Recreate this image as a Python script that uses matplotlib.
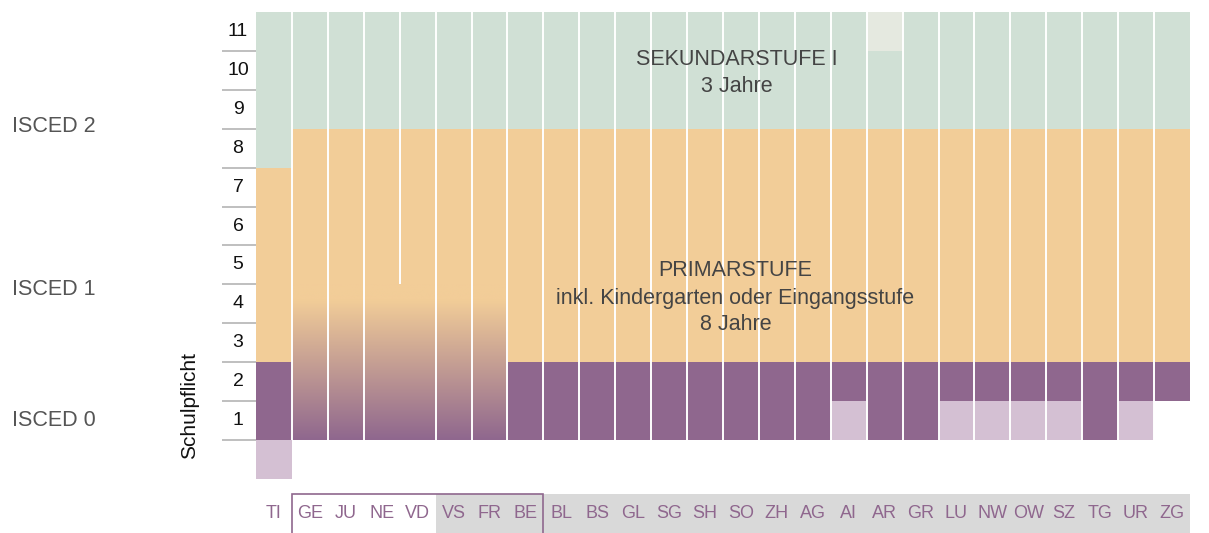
import numpy as np
import matplotlib.pyplot as plt
from matplotlib.colors import LinearSegmentedColormap
from matplotlib.patches import Rectangle

plt.rcParams['font.family'] = ['Liberation Sans', 'DejaVu Sans']

# Kantone in der Reihenfolge der Grafik
kantone = ["TI", "GE", "JU", "NE", "VD", "VS", "FR", "BE", "BL", "BS", "GL", "SG", "SH",
           "SO", "ZH", "AG", "AI", "AR", "GR", "LU", "NW", "OW", "SZ", "TG", "UR", "ZG"]
schuljahre = list(range(1, 12))

# Obergrenzen / Untergrenzen der Stufen (in Schuljahren)
sek_ende = [11] * 17 + [10] + [11] * 8          # AR: 11. Jahr nur hell
primar_ende = [7] + [8] * 25
primar_start = [2] + [4] * 6 + [2] * 19
eingangsstufe = [0] + [4] * 6 + [0] * 19          # GE..FR: Verlauf Kiga -> Primar
kiga_pflicht = [2, 0, 0, 0, 0, 0, 0, 2, 2, 2, 2, 2, 2, 2, 2, 2, 1, 2, 2, 1, 1, 1, 1, 2, 1, 1]
kiga_freiwillig = [1, 0, 0, 0, 0, 0, 0, 0, 0, 0, 0, 0, 0, 0, 0, 0, 1, 0, 0, 1, 1, 1, 1, 0, 1, 0]

isced = ["ISCED 2", "ISCED 1", "ISCED 0"]
isced_y = [8.05, 3.88, 0.51]

gruen = "#d0e0d5"
orange = "#f2cd98"
lila = "#8f678e"
hell_lila = "#d4c0d3"
blass = "#e5e9e0"

fig = plt.figure(figsize=(12.09, 5.33), dpi=100)
ax = fig.add_axes([0, 0, 1, 1])
ax.axis("off")

x = np.arange(len(kantone))
sek_ende = np.array(sek_ende)
primar_ende = np.array(primar_ende)
primar_start = np.array(primar_start)
kiga_pflicht = np.array(kiga_pflicht)
kiga_freiwillig = np.array(kiga_freiwillig)

kw = dict(width=1, align="edge", linewidth=0)
ax.bar(x, sek_ende - primar_ende, bottom=primar_ende, color=gruen, **kw)
ax.bar(x, 11 - sek_ende, bottom=sek_ende, color=blass, **kw)
ax.bar(x, primar_ende - primar_start, bottom=primar_start, color=orange, **kw)
ax.bar(x, kiga_pflicht, bottom=2 - kiga_pflicht, color=lila, **kw)
ax.bar(x, kiga_freiwillig, bottom=2 - kiga_pflicht - kiga_freiwillig, color=hell_lila, **kw)

# Eingangsstufe als Farbverlauf
idx = [i for i, e in enumerate(eingangsstufe) if e > 0]
cmap = LinearSegmentedColormap.from_list("verlauf", [(0, lila), (0.9, orange), (1, orange)],
                                         N=256)
grad = np.linspace(0, 1, 256).reshape(-1, 1)
ax.imshow(grad, extent=[idx[0], idx[-1] + 1, 0, max(eingangsstufe)], origin="lower",
          aspect="auto", cmap=cmap, zorder=2)

# weisse Trennlinien
for i in range(1, len(kantone)):
    unten = 0
    if i == 4:
        unten = eingangsstufe[i]
    ax.vlines(i, unten, 11, color="white", lw=1.4, zorder=3)

# Jahresachse
ax.hlines(range(0, 11), -0.95, 0, color="#b4b4b4", lw=1.2)
for j in schuljahre:
    ax.text(-0.5, j - 0.5, str(j), ha="center", va="center", fontsize=14, color="#111111")

for lab, yy in zip(isced, isced_y):
    ax.text(-6.79, yy, lab, ha="left", va="center", fontsize=15.5, color="#555555")
ax.text(-1.86, 0.9, "Schulpflicht", rotation=90, ha="center", va="center",
        fontsize=15, color="#111111")

ts = dict(ha="center", va="center", fontsize=15.5, color="#444444")
ax.text(13.39, 9.78, "SEKUNDARSTUFE I", **ts)
ax.text(13.39, 9.08, "3 Jahre", **ts)
ax.text(13.35, 4.37, "PRIMARSTUFE", **ts)
ax.text(13.35, 3.65, "inkl. Kindergarten oder Eingangsstufe", **ts)
ax.text(13.35, 2.98, "8 Jahre", **ts)

# Kantonsleiste unten
ax.add_patch(Rectangle((5, -2.5), 21, 1.11, color="#d9d9d9", lw=0, zorder=1))
ax.add_patch(Rectangle((1, -2.5), 7, 1.11, fill=False, edgecolor=lila, lw=1.2, zorder=2))
for i, k in enumerate(kantone):
    ax.text(i + 0.5, -1.9, k, ha="center", va="center", fontsize=13, color=lila, zorder=3)

ax.set_xlim(-7.127, 26.53)
ax.set_ylim(-2.39, 11.31)

fig.savefig("out.png", dpi=100)
